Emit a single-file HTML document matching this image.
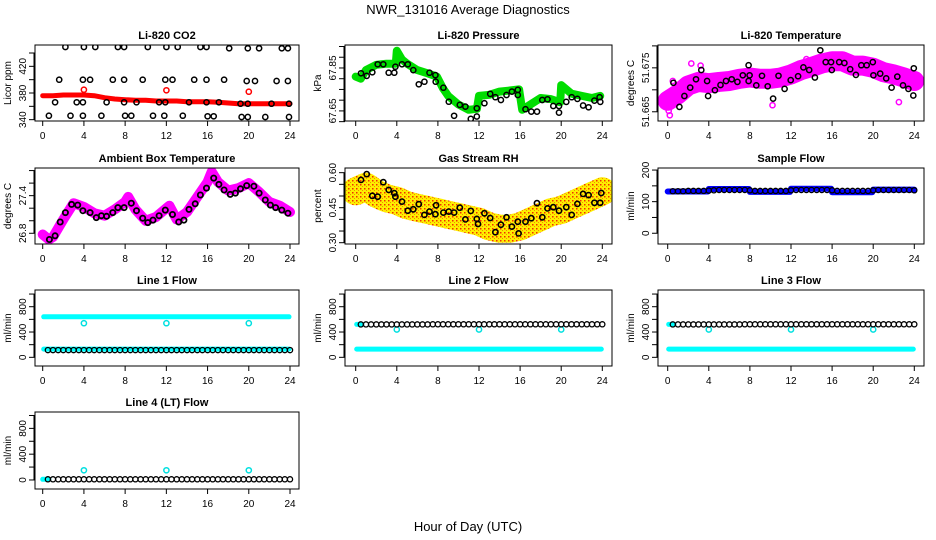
<!DOCTYPE html>
<html><head><meta charset="utf-8"><style>
html,body{margin:0;padding:0;background:#fff;}
svg{display:block;font-family:"Liberation Sans",Arial,sans-serif;}
</style></head><body>
<svg id="c" width="936" height="540" viewBox="0 0 936 540">
<text x="468" y="14" text-anchor="middle" font-size="13">NWR_131016  Average Diagnostics</text>
<text x="468" y="531" text-anchor="middle" font-size="13">Hour of Day (UTC)</text>
</svg>
<script>
// ---------- data ----------
const co2Hrs = [2.2,4.0,5.1,7.3,7.9,10.2,12,13.1,15.3,15.9,18.1,19.9,21.0,23.2,23.8,
 1.6,3.9,4.6,6.8,7.9,9.7,11.9,12.6,14.7,15.9,17.6,19.8,20.6,22.7,23.8,
 1.2,3.3,3.9,6.2,7.9,9.1,11.3,11.9,14.2,15.9,17.1,19.2,19.9,22.2,23.9,
 0.6,2.7,3.9,5.7,8,8.6,10.7,11.8,13.6,16,16.6,19.3,19.9,21.6,23.9];
const co2Vals = [449,449,449,449,449,449,449,449,449,449,447,447,447,447,447,
 400,400,400,400,400,400,400,400,400,400,400,398,398,398,398,
 366,366,366,366,366,366,366,366,366,366,366,364,364,364,364,
 346,346,346,346,346,346,346,346,346,345,345,344,344,344,344];
const co2BandHrs = [0,1,2,3,4,5,6,7,8,9,10,11,12,13,14,15,16,17,18,19,20,21,22,23,24];
const co2BandVals = [376,376,377,377,377,376,373,371,370,369,369,368,368,368,367,367,367,366,365,364,364,364,364,364,364];
const co2RedHrs = [4,12,20];
const co2RedVals = [385,384,382];

const presBandHrs = [0,0.5,1,2,3,3.9,4,4.5,5,6,7,7.9,8.5,9,10,11,11.8,12,13,14,15,15.9,16.2,17,18,19,19.9,20,21,22,23,23.8];
const presBandVals = [67.81,67.80,67.84,67.865,67.87,67.87,67.93,67.89,67.87,67.84,67.825,67.81,67.755,67.72,67.68,67.655,67.66,67.72,67.725,67.74,67.745,67.75,67.655,67.68,67.71,67.705,67.69,67.77,67.73,67.72,67.71,67.72];
const presHrs = [0.52,1.07,1.62,2.14,2.69,3.21,3.76,3.86,4.51,5.07,5.61,6.14,6.69,7.18,7.76,7.79,8.54,9.06,9.58,10.13,10.68,11.2,11.79,11.79,12.53,13.09,13.6,14.13,14.68,15.2,15.78,15.78,16.53,17.09,17.64,18.16,18.67,19.23,19.79,19.79,20.5,21.02,21.58,22.13,22.67,23.23,23.74,23.81];
const presVals = [67.825,67.813,67.83,67.867,67.867,67.828,67.828,67.856,67.867,67.867,67.84,67.774,67.786,67.828,67.817,67.786,67.758,67.693,67.627,67.678,67.67,67.613,67.662,67.624,67.686,67.729,67.714,67.701,67.724,67.74,67.748,67.724,67.658,67.647,67.647,67.701,67.704,67.673,67.642,67.673,67.692,67.714,67.706,67.675,67.667,67.698,67.714,67.692];

const tempBandHrs = [0,1,2,3,4,5,6,7,8,9,10,11,12,13,14,15,16,17,18,19,20,21,22,23,24];
const tempBandVals = [51.6675,51.6690,51.6710,51.6718,51.6715,51.6718,51.6720,51.6725,51.6728,51.6725,51.6725,51.6728,51.6735,51.6745,51.6752,51.6760,51.6765,51.6765,51.6755,51.6755,51.6750,51.6740,51.6735,51.6728,51.6720];
const tempHrs = [1.14,0.55,1.63,2.19,2.75,3.27,3.83,3.93,4.59,5.14,5.67,6.23,6.78,7.31,7.87,7.87,7.97,8.62,9.18,9.73,10.26,10.78,11.38,11.97,12.69,13.21,13.77,14.33,14.85,15.38,15.9,15.97,16.69,17.2,17.76,18.32,18.84,19.37,19.96,20.02,20.68,21.27,21.79,22.35,22.9,23.43,23.95,23.9];
const tempVals = [51.6661,51.6716,51.6686,51.6705,51.6724,51.6745,51.6720,51.6686,51.6699,51.6711,51.6720,51.6724,51.6718,51.6733,51.6756,51.6720,51.6733,51.6710,51.6732,51.6708,51.6680,51.6732,51.6702,51.6722,51.6731,51.6751,51.6745,51.6728,51.6790,51.6763,51.6763,51.6745,51.6763,51.6761,51.6747,51.6734,51.6756,51.6756,51.6763,51.6733,51.6737,51.6726,51.6705,51.6730,51.6710,51.6702,51.6749,51.6687];
const tempOutHrs = [0.1,0.2,0.5,2.3,3.2,10.2,22.5,13.5,14.5];
const tempOutVals = [51.6652,51.6642,51.6720,51.6760,51.6755,51.6665,51.6672,51.6770,51.6770];

const ambBandHrs = [0,0.6,1,2,3,4,5,6,7,8,8.3,9,10,11,12,12.3,13,14,15,16,16.4,17,18,19,20,21,22,23,24];
const ambBandVals = [26.78,26.70,26.74,27.02,27.28,27.22,27.12,27.08,27.18,27.30,27.38,27.18,27.00,27.06,27.20,27.24,27.02,27.14,27.38,27.62,27.78,27.62,27.48,27.52,27.60,27.46,27.30,27.24,27.14];
const ambHrs = [0.65,1.2,1.7,2.2,2.8,3.4,3.9,4.6,5.2,5.7,6.2,6.8,7.3,7.9,8.6,9.1,9.7,10.2,10.7,11.3,11.9,12.6,13.2,13.7,14.2,14.8,15.3,15.9,16.6,17.1,17.6,18.2,18.7,19.2,19.8,20.5,21.0,21.6,22.1,22.6,23.2,23.8];
const ambVals = [26.70,26.76,26.98,27.13,27.26,27.25,27.16,27.13,27.05,27.08,27.07,27.13,27.21,27.21,27.28,27.16,27.04,26.97,27.01,27.08,27.17,27.10,26.98,27.01,27.18,27.27,27.41,27.52,27.68,27.58,27.49,27.42,27.44,27.51,27.56,27.55,27.44,27.33,27.25,27.21,27.17,27.12];

const rhBandHrs = [0,1,2,3,4,5,6,7,8,9,10,11,12,13,14,15,16,17,18,19,20,21,22,23,24];
const rhBandVals = [0.52,0.54,0.51,0.49,0.48,0.46,0.45,0.44,0.43,0.42,0.41,0.40,0.39,0.37,0.36,0.36,0.37,0.39,0.41,0.43,0.44,0.46,0.48,0.50,0.52];
const rhHrs = [0.52,1.07,1.62,2.14,2.69,3.21,3.76,3.86,4.51,5.07,5.61,6.14,6.69,7.18,7.76,7.82,8.54,9.06,9.58,10.13,10.68,11.2,11.79,11.9,12.53,13.09,13.6,14.13,14.68,15.2,15.78,15.85,16.53,17.09,17.64,18.16,18.67,19.23,19.79,20.5,21.02,21.58,22.13,22.67,23.23,23.8,23.9];
const rhVals = [0.569,0.594,0.501,0.497,0.559,0.526,0.512,0.497,0.476,0.437,0.443,0.465,0.419,0.433,0.422,0.46,0.429,0.433,0.429,0.45,0.40,0.436,0.402,0.38,0.426,0.406,0.345,0.377,0.409,0.369,0.39,0.34,0.39,0.405,0.469,0.409,0.447,0.452,0.437,0.452,0.419,0.466,0.509,0.504,0.471,0.471,0.513];

const flowHrs = [0.5,1,1.5,2,2.5,3,3.5,4,4.5,5,5.5,6,6.5,7,7.5,8,8.5,9,9.5,10,10.5,11,11.5,12,12.5,13,13.5,14,14.5,15,15.5,16,16.5,17,17.5,18,18.5,19,19.5,20,20.5,21,21.5,22,22.5,23,23.5,24];
const sampleBlack = [133,133,133,134,134,134,134,135,136,137,137,137,137,137,137,136,134,134,134,134,134,134,134,136,137,137,137,137,137,137,137,136,134,134,134,134,134,134,134,136,137,137,137,137,137,137,137,136];
const sampleBandHrs = [0,3.9,4,7.9,8,11.9,12,15.9,16,19.9,20,24];
const sampleBandVals = [132,132,140,140,131,131,141,141,130,130,138,138];
const line1Black = [115,115,115,115,115,115,115,115,115,115,115,115,115,115,115,115,115,115,115,115,115,115,115,115,115,115,115,115,115,115,115,115,115,115,115,115,115,115,115,115,115,115,115,115,115,115,115,115];
const line23Black = [520,520,520,520,520,520,520,520,520,520,520,520,520,520,522,522,522,522,522,522,522,522,522,522,522,522,522,522,522,522,522,522,522,522,522,522,522,522,522,522,522,522,522,522,522,522,522,522];
const line4Black = [10,10,10,10,10,10,10,10,10,10,10,10,10,10,10,10,10,10,10,10,10,10,10,10,10,10,10,10,10,10,10,10,10,10,10,10,10,10,10,10,10,10,10,10,10,10,10,10];
const line1HiBand = [640,640];
const line1LoBand = [130,130];
const line23LoBand = [130,130];
const flowBandHrs = [0.1,23.9];
const line23HiBandHrs = [0.1,0.6];
const line23HiBandVals = [520,520];
const line4BandHrs = [0,0.6];
const line4BandVals = [10,10];
const spikeHrs = [4,12,20];
const line1Spike = [540,540,540];
const line23Spike = [440,440,440];
const line4Spike = [150,150,150];

// ---------- layout ----------
const NS = 'http://www.w3.org/2000/svg';
const svg = document.getElementById('c');
const cols = [{b0:35,b1:299,h0:42.7,h24:290},{b0:345,b1:612,h0:355.7,h24:602.3},{b0:658,b1:924,h0:667.7,h24:914.3}];
const rows = [{t:45,b:121},{t:168,b:244},{t:290,b:366},{t:412,b:489}];
let clipN = 0;

function mk(tag, attrs, parent){
  const e = document.createElementNS(NS, tag);
  for (const k in attrs) e.setAttribute(k, attrs[k]);
  parent.appendChild(e);
  return e;
}

function panel(ci, ri, title, ylab, ymin, ymax, ticks, labels, name){
  const C = cols[ci], R = rows[ri];
  const g = mk('g', {}, svg);
  
  
  const x = h => C.h0 + h * (C.h24 - C.h0) / 24;
  const y = v => R.b - (v - ymin) / (ymax - ymin) * (R.b - R.t);
  const id = 'cl' + (clipN++);
  const cp = mk('clipPath', {id:id}, g);
  mk('rect', {x:C.b0, y:R.t, width:C.b1-C.b0, height:R.b-R.t}, cp);
  const plot = mk('g', {'clip-path':'url(#'+id+')'}, g);
  
  
  const box = mk('rect', {x:C.b0, y:R.t, width:C.b1-C.b0, height:R.b-R.t, fill:'none', stroke:'#000', 'stroke-width':1}, g);
  
  
  const tt = mk('text', {x:(C.b0+C.b1)/2, y:R.t-6, 'text-anchor':'middle', 'font-size':11, 'font-weight':'bold'}, g);
  tt.textContent = title;
  
  
  const yl = mk('text', {x:C.b0-24, y:(R.t+R.b)/2, 'text-anchor':'middle', 'font-size':10, transform:'rotate(-90 '+(C.b0-24)+' '+((R.t+R.b)/2)+')'}, g);
  yl.textContent = ylab;
  
  
  mk('line', {x1:x(0), x2:x(24), y1:R.b, y2:R.b, stroke:'#000'}, g);
  for (let h = 0; h <= 24; h += 4){
    mk('line', {x1:x(h), x2:x(h), y1:R.b, y2:R.b+5, stroke:'#000'}, g);
    const t = mk('text', {x:x(h), y:R.b+18, 'text-anchor':'middle', 'font-size':10}, g);
    t.textContent = String(h);
    
    
  }
  mk('line', {x1:C.b0-1, x2:C.b0-1, y1:y(ticks[0]), y2:y(ticks[ticks.length-1]), stroke:'#000'}, g);
  ticks.forEach((v, i) => {
    mk('line', {x1:C.b0-6, x2:C.b0, y1:y(v), y2:y(v), stroke:'#000'}, g);
    if (labels[i]){
      const t = mk('text', {x:C.b0-9, y:y(v), 'text-anchor':'middle', 'font-size':10, transform:'rotate(-90 '+(C.b0-9)+' '+y(v)+')'}, g);
      t.textContent = labels[i];
      
      
    }
  });
  return {x, y, plot};
}

function band(P, hrs, vals, color, w, name){
  const pts = hrs.map((h, i) => P.x(h).toFixed(1) + ',' + P.y(vals[i]).toFixed(1)).join(' ');
  const pl = mk('polyline', {points:pts, fill:'none', stroke:color, 'stroke-width':w, 'stroke-linejoin':'round', 'stroke-linecap':'round'}, P.plot);
  
  
  return pl;
}
function dots(P, hrs, vals, color, name, sw){
  hrs.forEach((h, i) => {
    const c = mk('circle', {cx:P.x(h).toFixed(1), cy:P.y(vals[i]).toFixed(1), r:2.6, fill:'none', stroke:color, 'stroke-width':sw||1.5}, P.plot);
    
    
  });
}

const defs = mk('defs', {}, svg);
const pat = mk('pattern', {id:'rhpat', width:4, height:4, patternUnits:'userSpaceOnUse'}, defs);
mk('rect', {width:4, height:4, fill:'#ffee00'}, pat);
mk('rect', {x:0, y:0, width:1.5, height:1.5, fill:'#f03000'}, pat);
mk('rect', {x:2, y:2, width:1, height:1, fill:'#f09000'}, pat);

let P;
P = panel(0,0,'Li-820 CO2','Licor ppm',338,452,[340,360,380,400,420,440],['340','','380','','420',''],'co2');
band(P, co2BandHrs, co2BandVals, '#ff0000', 5, 'co2-red-series');
dots(P, co2RedHrs, co2RedVals, '#ff0000', 'co2-red-point');
dots(P, co2Hrs, co2Vals, '#000', 'co2-point');

P = panel(1,0,'Li-820 Pressure','kPa',67.603,67.957,[67.60,67.65,67.70,67.75,67.80,67.85,67.90,67.95],['','67.65','','','','67.85','',''],'pressure');
band(P, presBandHrs, presBandVals, '#00dd00', 8, 'pressure-green-series');
dots(P, presHrs, presVals, '#000', 'pressure-point');

P = panel(2,0,'Li-820 Temperature','degrees C',51.6629,51.6802,[51.665,51.670,51.675,51.680],['51.665','','51.675',''],'temperature');
band(P, tempBandHrs, tempBandVals, '#ff00ff', 20, 'temperature-magenta-series');
dots(P, tempOutHrs, tempOutVals, '#ff00ff', 'temperature-magenta-point');
dots(P, tempHrs, tempVals, '#000', 'temperature-point');

P = panel(0,1,'Ambient Box Temperature','degrees C',26.629,27.841,[26.8,27.0,27.2,27.4,27.6,27.8],['26.8','','','27.4','',''],'ambient');
band(P, ambBandHrs, ambBandVals, '#ff00ff', 10, 'ambient-magenta-series');
dots(P, ambHrs, ambVals, '#000', 'ambient-point', 1.8);

P = panel(1,1,'Gas Stream RH','percent',0.2944,0.620,[0.30,0.35,0.40,0.45,0.50,0.55,0.60],['0.30','','','0.45','','','0.60'],'rh');
band(P, rhBandHrs, rhBandVals, 'url(#rhpat)', 28, 'rh-orange-series');
dots(P, rhHrs, rhVals, '#000', 'rh-point', 1.6);

P = panel(2,1,'Sample Flow','ml/min',-34,206.5,[0,50,100,150,200],['0','','100','','200'],'sample-flow');
band(P, sampleBandHrs, sampleBandVals, '#0000ff', 6, 'sample-flow-blue-series');
dots(P, flowHrs, sampleBlack, '#000', 'sample-flow-point', 1.3);

P = panel(0,2,'Line 1 Flow','ml/min',-137,1064,[0,200,400,600,800,1000],['0','','400','','800',''],'line1-flow');
band(P, flowBandHrs, line1HiBand, '#00ffff', 5, 'line1-hi-series');
band(P, flowBandHrs, line1LoBand, '#00ffff', 5, 'line1-lo-series');
dots(P, spikeHrs, line1Spike, '#00e0e0', 'line1-spike');
dots(P, flowHrs, line1Black, '#000', 'line1-point', 1.3);

P = panel(1,2,'Line 2 Flow','ml/min',-137,1064,[0,200,400,600,800,1000],['0','','400','','800',''],'line2-flow');
band(P, line23HiBandHrs, line23HiBandVals, '#00ffff', 5, 'line2-hi-series');
band(P, flowBandHrs, line23LoBand, '#00ffff', 5, 'line2-lo-series');
dots(P, spikeHrs, line23Spike, '#00e0e0', 'line2-spike');
dots(P, flowHrs, line23Black, '#000', 'line2-point', 1.3);

P = panel(2,2,'Line 3 Flow','ml/min',-137,1064,[0,200,400,600,800,1000],['0','','400','','800',''],'line3-flow');
band(P, line23HiBandHrs, line23HiBandVals, '#00ffff', 5, 'line3-hi-series');
band(P, flowBandHrs, line23LoBand, '#00ffff', 5, 'line3-lo-series');
dots(P, spikeHrs, line23Spike, '#00e0e0', 'line3-spike');
dots(P, flowHrs, line23Black, '#000', 'line3-point', 1.3);

P = panel(0,3,'Line 4 (LT) Flow','ml/min',-140,1054,[0,200,400,600,800,1000],['0','','400','','800',''],'line4-flow');
band(P, line4BandHrs, line4BandVals, '#00ffff', 5, 'line4-series');
dots(P, spikeHrs, line4Spike, '#00e0e0', 'line4-spike');
dots(P, flowHrs, line4Black, '#000', 'line4-point', 1.3);
</script>
</body></html>
